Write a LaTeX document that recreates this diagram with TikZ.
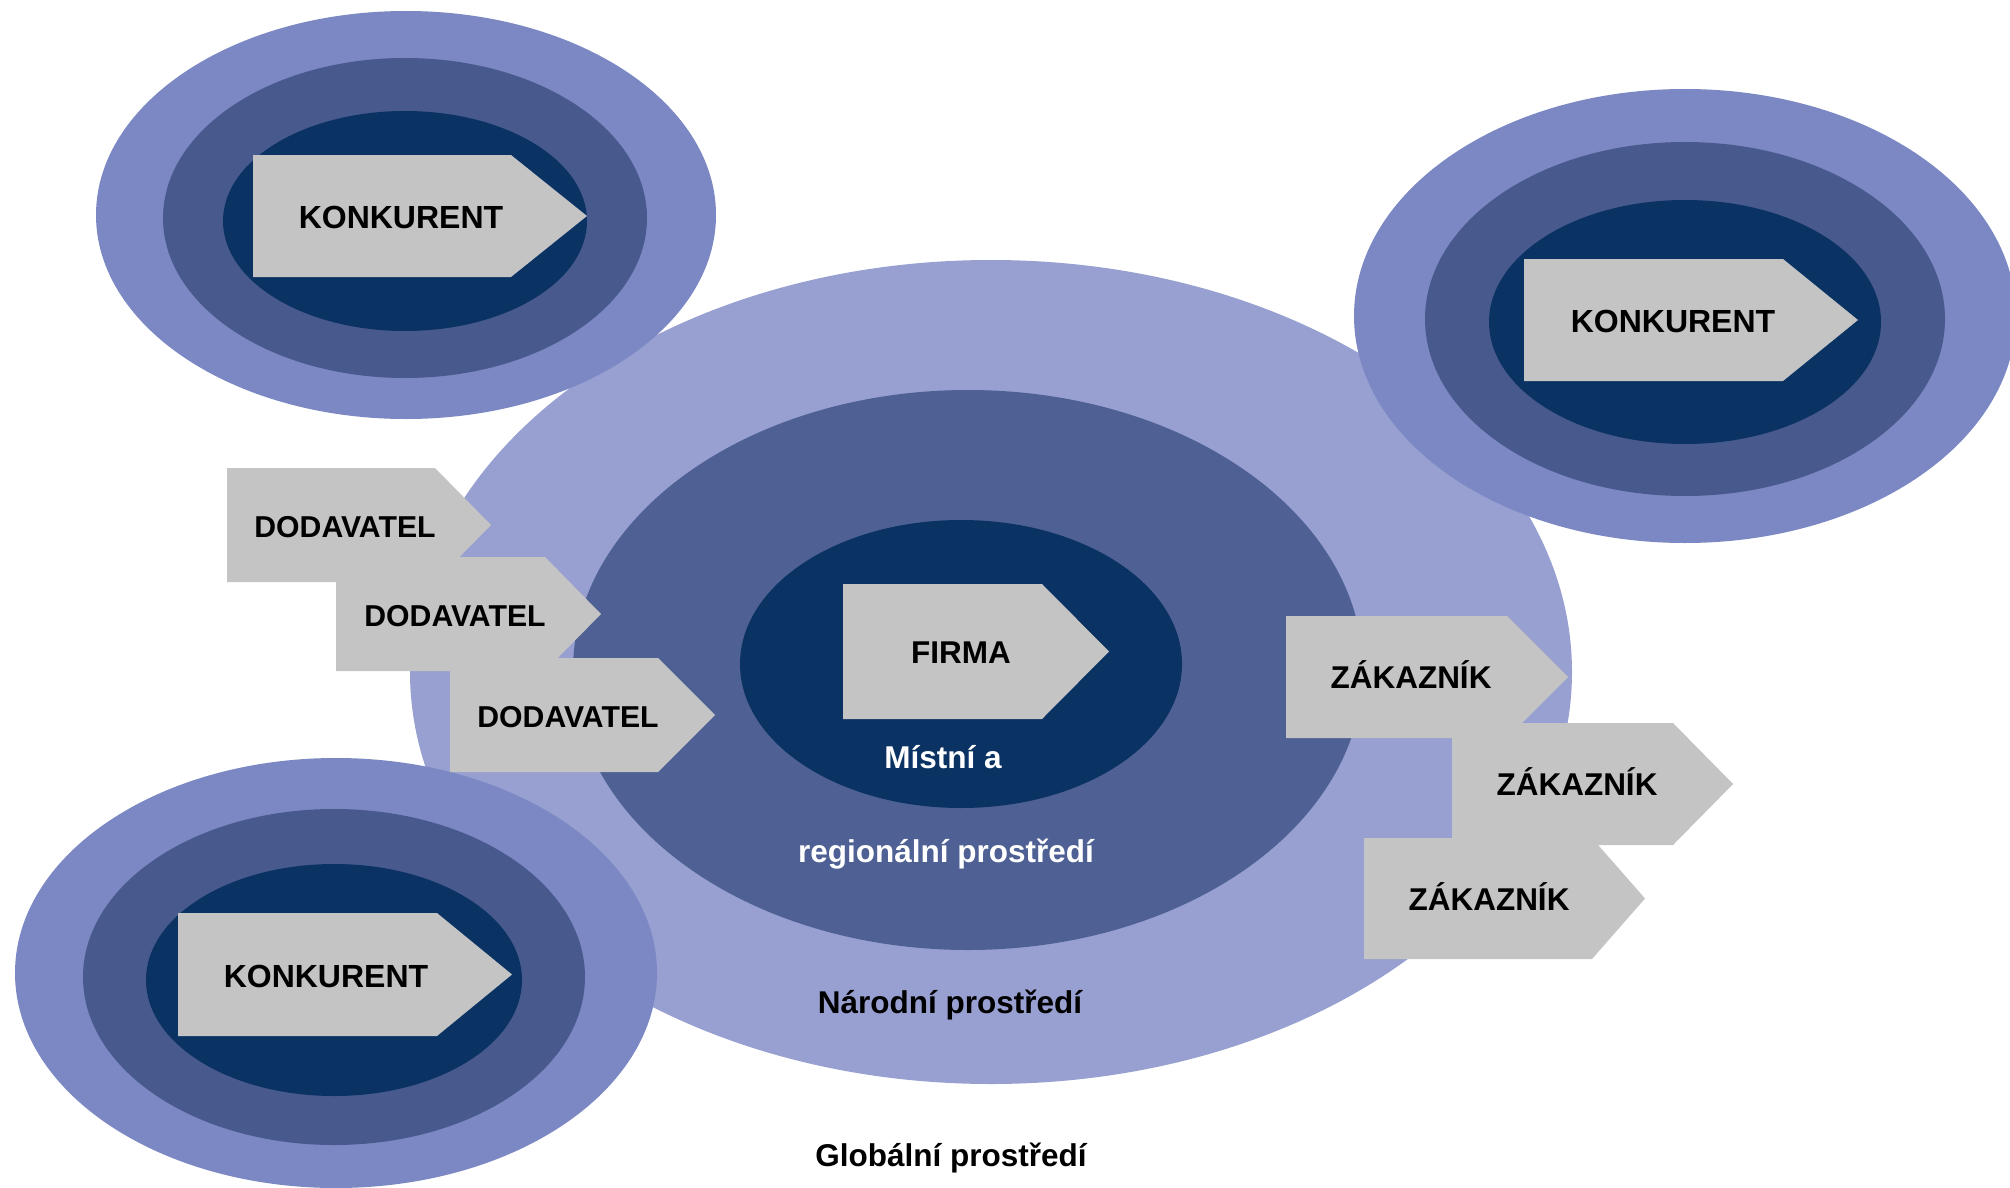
\documentclass[tikz,border=0pt]{standalone}
\usepackage{fontspec}
\setmainfont{Liberation Sans}
\definecolor{kout}{HTML}{7B88C3}
\definecolor{kmid}{HTML}{48598E}
\definecolor{navy}{HTML}{0A3263}
\definecolor{blight}{HTML}{97A0D0}
\definecolor{bmid}{HTML}{4F6194}
\definecolor{arrgray}{HTML}{C4C4C4}
\tikzset{
  lbl/.style={anchor=base, inner sep=0pt, font=\bfseries\fontsize{31.5}{36}\selectfont},
  lblk/.style={lbl, font=\bfseries\fontsize{32}{36}\selectfont},
  lbld/.style={lbl, font=\bfseries\fontsize{30.2}{36}\selectfont},
  wlbl/.style={lbl, text=white},
  arrfill/.style={fill=arrgray}
}
\newcommand\pentarrow[5]{% x1, x2 (body end), x3 (tip), y1 (top), y2 (bottom)
  \fill[arrfill] (#1,#4) -- (#2,#4) -- (#3,{(#4+#5)/2}) -- (#2,#5) -- (#1,#5) -- cycle;}
\newcommand\konk[3]{% center x, center y, name
  \fill[kout] (#1,#2) ellipse [x radius=322, y radius=218];
  \fill[kmid] (#1-1,#2+3) ellipse [x radius=252, y radius=168];
  \fill[navy] (#1-1,#2+6) ellipse [x radius=190, y radius=118];}
\begin{document}
\begin{tikzpicture}[x=1pt,y=-1pt]
\useasboundingbox (0,0) rectangle (2010,1188);
\fill[white] (0,0) rectangle (2010,1188);
% main concentric ellipses
\fill[blight] (991,672) ellipse [x radius=581, y radius=412];
\fill[bmid] (968,670) ellipse [x radius=395, y radius=280];
\fill[navy] (961,664) ellipse [x radius=221, y radius=144];
\pentarrow{843}{1042}{1109}{584}{719}
% competitors
\fill[kout] (406,215) ellipse [x radius=310, y radius=204];
\fill[kmid] (405,218) ellipse [x radius=242, y radius=160];
\fill[navy] (405,221) ellipse [x radius=182, y radius=110];
\pentarrow{253}{511}{587}{155}{277}
\fill[kout] (1685,316) ellipse [x radius=331, y radius=227];
\fill[kmid] (1685,319) ellipse [x radius=260, y radius=177];
\fill[navy] (1685,322) ellipse [x radius=196, y radius=122];
\pentarrow{1524}{1783}{1858}{259}{381}
\fill[kout] (336,973) ellipse [x radius=321, y radius=215];
\fill[kmid] (334,977) ellipse [x radius=251, y radius=168];
\fill[navy] (334,980) ellipse [x radius=188, y radius=116];
\pentarrow{178}{437}{512}{913}{1036}
% suppliers
\pentarrow{227}{435}{491}{468}{582}
\pentarrow{336}{545}{601}{557}{671}
\pentarrow{450}{658}{715}{658}{772}
% customers
\pentarrow{1286}{1507}{1568}{616}{738}
\pentarrow{1452}{1673}{1733}{723}{845}
\pentarrow{1364}{1592}{1645}{838}{959}
% labels
\node[lblk] (k1) at (401,228) {KONKURENT};
\node[lblk] (k2) at (1673,332) {KONKURENT};
\node[lblk] (k3) at (326,987) {KONKURENT};
\node[lbl] (firma) at (961,663) {FIRMA};
\node[lbld] (d1) at (345,537) {DODAVATEL};
\node[lbld] (d2) at (455,626) {DODAVATEL};
\node[lbld] (d3) at (568,727) {DODAVATEL};
\node[lbl] (z1) at (1411,688) {ZÁKAZNÍK};
\node[lbl] (z2) at (1577,795) {ZÁKAZNÍK};
\node[lbl] (z3) at (1489,910) {ZÁKAZNÍK};
\node[wlbl] (mist) at (943,768) {Místní a};
\node[wlbl] (reg) at (946,862) {regionální prostředí};
\node[lbl] (nar) at (950,1013) {Národní prostředí};
\node[lbl] (glob) at (951,1166) {Globální prostředí};
\end{tikzpicture}
\end{document}
